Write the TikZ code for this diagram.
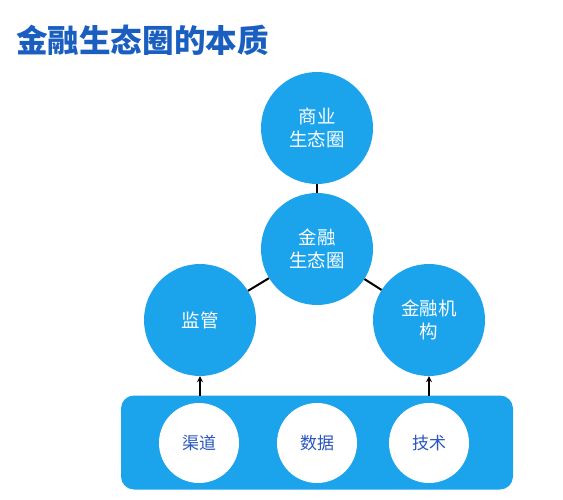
\documentclass[tikz,border=0pt]{standalone}
\usepackage{fontspec}
\setmainfont{Noto Sans CJK SC}
\usetikzlibrary{arrows.meta}
\definecolor{titleblue}{HTML}{1A5FC0}
\definecolor{fillblue}{HTML}{1BA3EC}
\definecolor{textblue}{HTML}{2A55C0}
\tikzset{
  bigc/.style={circle, fill=fillblue, minimum size=112pt, inner sep=0pt, text=white,
    font=\fontsize{18.5}{23}\selectfont, align=center},
  smallc/.style={circle, fill=white, minimum size=80pt, inner sep=0pt, text=textblue,
    font=\fontsize{17}{20}\selectfont},
  link/.style={line width=2pt, black},
  up/.style={line width=2pt, black, -{Stealth[length=6pt,width=6pt]}}
}
\begin{document}
\begin{tikzpicture}[x=1pt,y=-1pt]
\useasboundingbox (0,0) rectangle (563,500);
\node[anchor=west, text=titleblue, font=\fontsize{31.6}{33}\selectfont\bfseries, inner sep=0pt] (title) at (16,40) {金融生态圈的本质};
\node[bigc] (top) at (317,128) {商业\\生态圈};
\node[bigc] (mid) at (317,249) {金融\\生态圈};
\node[bigc] (left) at (200,320) {监管};
\node[bigc] (right) at (429,320) {金融机\\构};
\node[draw=none, fill=fillblue, rounded corners=13pt, minimum width=392pt, minimum height=94pt, inner sep=0pt] (base) at (317,442.5) {};
\node[smallc] (c1) at (199,443) {渠道};
\node[smallc] (c2) at (317,443) {数据};
\node[smallc] (c3) at (429,443) {技术};
\draw[link] (top) -- (mid);
\draw[link] (mid) -- (left);
\draw[link] (mid) -- (right);
\coordinate (a1) at (200,395.5);
\coordinate (a2) at (429,395.5);
\draw[up] (a1) -- (left);
\draw[up] (a2) -- (right);
\end{tikzpicture}
\end{document}
